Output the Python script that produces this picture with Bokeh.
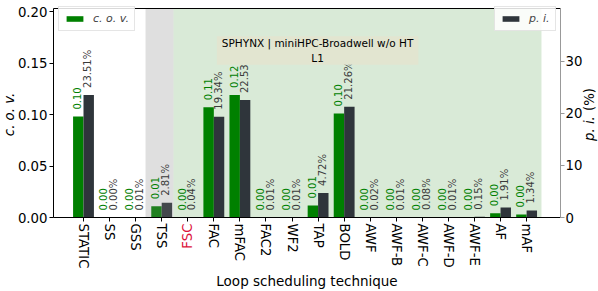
from math import pi as PI
from bokeh.plotting import figure
from bokeh.models import (Range1d, LinearAxis, FixedTicker, Label, Legend, LegendItem,
                          NumeralTickFormatter, ColumnDataSource)
from bokeh.core.properties import value
from bokeh.embed import file_html
from bokeh.resources import INLINE

# ---- data ----
techniques = ["STATIC", "SS", "GSS", "TSS", "FSC", "FAC", "mFAC", "FAC2", "WF2", "TAP",
              "BOLD", "AWF", "AWF-B", "AWF-C", "AWF-D", "AWF-E", "AF", "mAF"]
cov_values = [0.098, 0.0, 0.0, 0.011, 0.0, 0.107, 0.119, 0.0, 0.0, 0.0117,
              0.101, 0.0, 0.0, 0.0, 0.0, 0.0, 0.0042, 0.003]
cov_labels = ["0.10", "0.00", "0.00", "0.01", "0.00", "0.11", "0.12", "0.00", "0.00", "0.01",
              "0.10", "0.00", "0.00", "0.00", "0.00", "0.00", "0.00", "0.00"]
pi_values = [23.51, 0.00, 0.01, 2.81, 0.04, 19.34, 22.53, 0.01, 0.01, 4.72,
             21.26, 0.02, 0.01, 0.08, 0.01, 0.15, 1.91, 1.34]
pi_labels = ["23.51%", "0.00%", "0.01%", "2.81%", "0.04%", "19.34%", "22.53%", "0.01%", "0.01%", "4.72%",
             "21.26%", "0.02%", "0.01%", "0.08%", "0.01%", "0.15%", "1.91%", "1.34%"]
cov_ticks = [0.0, 0.05, 0.10, 0.15, 0.20]
pi_ticks = [0, 10, 20, 30]
highlight = "FSC"
title_text = "SPHYNX | miniHPC-Broadwell w/o HT\nL1"

# ---- layout (pixels / data extents of the plotting box) ----
W, H = 598, 291
X0, X1 = -1.151, 18.30          # data x at left / right spine
SP_L, SP_R = 53, 560             # spine positions (px from canvas left)
SP_T, SP_B = 7.5, 217            # top spine / zero line (px from canvas top)
CS = 1030.0                      # px per c.o.v. unit
PS = 5.215                       # px per p.i. unit
COV_TOP = (SP_B - SP_T) / CS
PI_TOP = (SP_B - SP_T) / PS

xs = (SP_R - SP_L) / (X1 - X0)
x_range = Range1d(X0 - SP_L / xs, X1 + (W - SP_R) / xs)
y_range = Range1d(-(H - SP_B) / CS, COV_TOP + SP_T / CS)
pi_range = Range1d(-(H - SP_B) / PS, PI_TOP + SP_T / PS)

def xd(px):
    return X0 + (px - SP_L) / xs

def yd(px):
    return (SP_B - px) / CS

FONT = "DejaVu Sans"
GREEN = "#008000"
DARK = "#2f353b"
FS = "13.3px"

idx = list(range(len(techniques)))
src = ColumnDataSource(dict(
    xg=[i - 0.2 for i in idx], xd=[i + 0.2 for i in idx],
    cov=cov_values, pi=pi_values, covl=cov_labels, pil=pi_labels))

p = figure(width=W, height=H, output_backend="svg", toolbar_location=None,
           x_range=x_range, y_range=y_range, x_axis_location=None, y_axis_location=None,
           min_border=0)
p.extra_y_ranges = {"pi": pi_range}
p.xgrid.grid_line_color = None
p.ygrid.grid_line_color = None
p.outline_line_color = None
p.background_fill_color = "white"
p.border_fill_color = "white"

# shaded regions
p.quad(left=[3.45], right=[17.57], bottom=[0], top=[COV_TOP], fill_color="#d9ead7",
       line_color=None, level="underlay")

r_cov = p.vbar(x="xg", top="cov", width=0.4, source=src, fill_color=GREEN, line_color=None)
r_pi = p.vbar(x="xd", top="pi", width=0.4, source=src, fill_color=DARK, line_color=None,
              y_range_name="pi")

p.quad(left=[2.38], right=[3.45], bottom=[0], top=[COV_TOP], fill_color="#808080",
       fill_alpha=0.25, line_color=None)

p.text(x="xg", y="cov", text="covl", source=src, angle=PI / 2, text_align="left",
       text_baseline="middle", y_offset=-7, x_offset=-1, text_color=GREEN,
       text_font_size="10px", text_font=value(FONT))
p.text(x="xd", y="pi", text="pil", source=src, angle=PI / 2, text_align="left",
       text_baseline="middle", y_offset=-7, x_offset=-1, text_color="#3a3a3a",
       text_font_size="10px", text_font=value(FONT), y_range_name="pi")

# ---- axes (fixed inside the plotting area) ----
xa = LinearAxis(fixed_location=0, bounds=(X0, X1), ticker=FixedTicker(ticks=idx))
xa.major_label_overrides = {i: ("" if t == highlight else t) for i, t in enumerate(techniques)}
xa.major_label_orientation = "vertical"
p.add_layout(xa, "below")

ya = LinearAxis(fixed_location=X0, bounds=(0, COV_TOP), ticker=FixedTicker(ticks=cov_ticks),
                formatter=NumeralTickFormatter(format="0.00"))
p.add_layout(ya, "left")

ra = LinearAxis(fixed_location=X1, y_range_name="pi", bounds=(0, PI_TOP),
                ticker=FixedTicker(ticks=pi_ticks))
p.add_layout(ra, "right")

ta = LinearAxis(fixed_location=COV_TOP, bounds=(X0, X1), ticker=FixedTicker(ticks=[]))
ta.major_label_text_font_size = "0px"
p.add_layout(ta, "above")

for ax in (xa, ya, ra, ta):
    ax.major_label_text_font = FONT
    ax.major_label_text_color = "black"
    ax.major_tick_out = 4
    ax.major_tick_in = 0
    ax.minor_tick_out = 0
    ax.minor_tick_in = 0
    ax.axis_line_color = "black"
    ax.major_tick_line_color = "black"
    ax.major_label_standoff = 2
for ax in (xa, ya, ra):
    ax.major_label_text_font_size = FS
ra.major_label_standoff = 1
ra.axis_line_color = "#999999"
ra.major_tick_line_color = "#999999"

# highlighted tick label
p.add_layout(Label(x=techniques.index(highlight), y=yd(SP_B + 6), text=highlight,
                   angle=PI / 2, text_align="right", text_baseline="middle",
                   text_color="#dc143c", text_font=FONT, text_font_size=FS))

# axis titles
p.add_layout(Label(x=xd(9), y=0.1, text="c. o. v.", angle=PI / 2, text_align="center",
                   text_baseline="middle", text_font=FONT, text_font_size=FS,
                   text_font_style="italic", text_color="black"))
p.add_layout(Label(x=xd(589), y=0.1 - 26.5 / CS, text="p. i. ", angle=PI / 2,
                   text_align="left", text_baseline="middle", text_font=FONT,
                   text_font_size=FS, text_font_style="italic", text_color="black"))
p.add_layout(Label(x=xd(589), y=0.1 + 26.5 / CS, text="(%)", angle=PI / 2,
                   text_align="right", text_baseline="middle", text_font=FONT,
                   text_font_size=FS, text_color="black"))
p.add_layout(Label(x=(X0 + X1) / 2, y=yd(280), text="Loop scheduling technique",
                   text_align="center", text_baseline="middle", text_font=FONT,
                   text_font_size="13.5px", text_color="black"))

# annotation box
p.add_layout(Label(x=8.98, y=yd(50), text=title_text, text_align="center",
                   text_baseline="middle", text_font=FONT, text_font_size="10.5px",
                   text_color="black", background_fill_color="#e2e5d0",
                   background_fill_alpha=1.0, padding=(5, 1)))

def make_legend(label, rend, loc):
    lg = Legend(items=[LegendItem(label=label, renderers=[rend])], location=loc)
    lg.label_text_font = FONT
    lg.label_text_font_size = "11px"
    lg.label_text_font_style = "italic"
    lg.glyph_width = 21
    lg.glyph_height = 7
    lg.label_height = 9
    lg.label_standoff = 8
    lg.padding = 5
    lg.margin = 0
    lg.spacing = 0
    lg.border_line_color = "#cccccc"
    lg.background_fill_alpha = 0.85
    return lg

p.add_layout(make_legend("c. o. v.", r_cov, (58, H - 31)))
p.add_layout(make_legend("p. i.", r_pi, (494, H - 31)))

open("out.html", "w").write(file_html(p, INLINE))
